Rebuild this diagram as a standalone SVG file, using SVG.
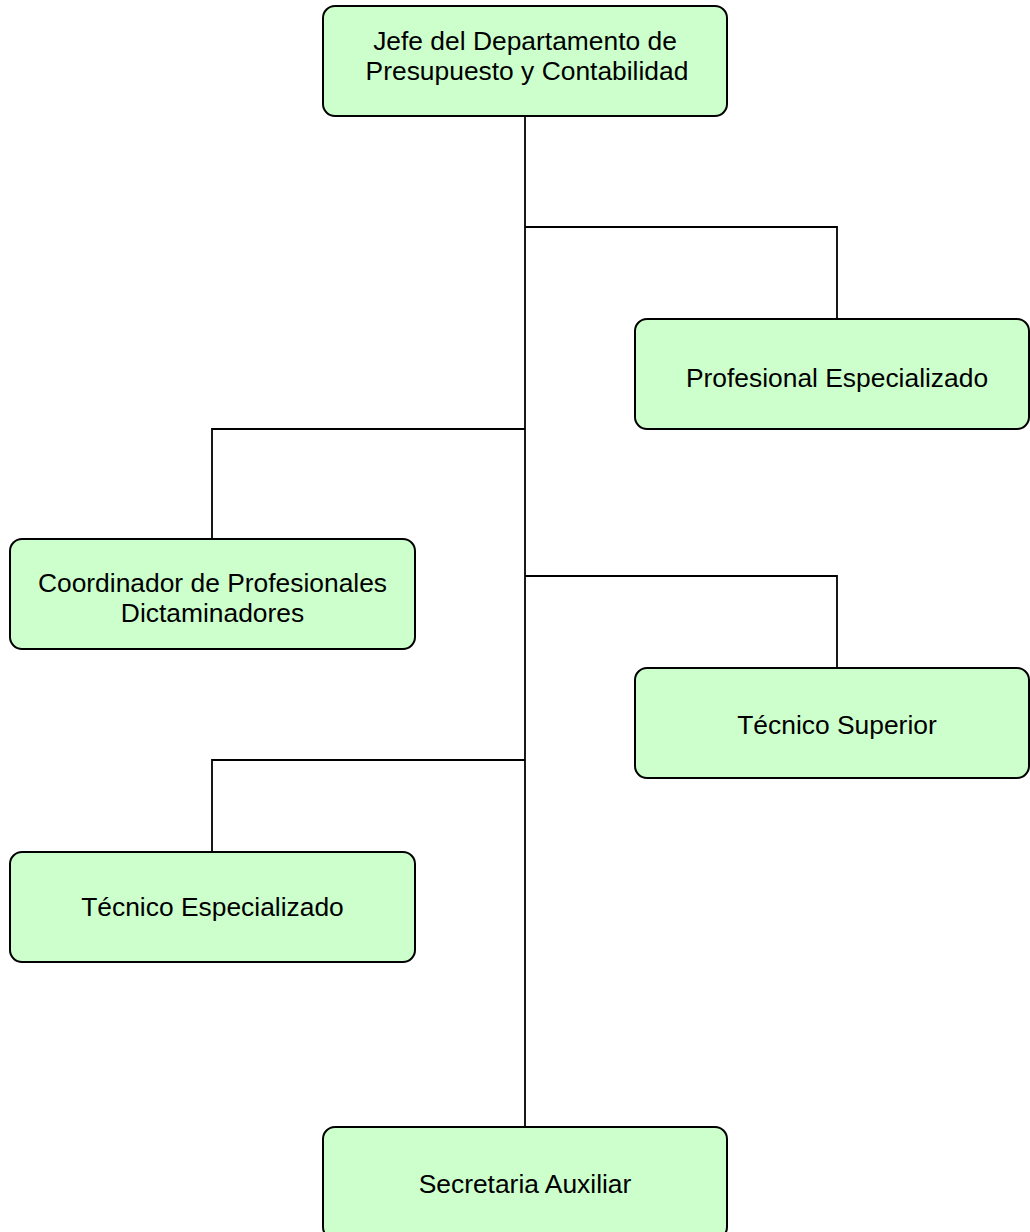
<svg xmlns="http://www.w3.org/2000/svg" width="1030" height="1232" viewBox="0 0 1030 1232">
  <style>
    .box { fill: #ccffcc; stroke: #000000; stroke-width: 2; }
    .lbl { font-family: "Liberation Sans", Arial, sans-serif; font-size: 26.4px; fill: #000000; text-anchor: middle; }
    .wire { fill: none; stroke: #000000; stroke-width: 1.8; }
  </style>
  <rect width="1030" height="1232" fill="#ffffff"/>

  <!-- reporting lines -->
  <g id="connectors">
    <path class="wire" d="M525 116 V1127"/>
    <path class="wire" d="M525 227 H837 V319"/>
    <path class="wire" d="M525 429 H212 V539"/>
    <path class="wire" d="M525 576 H837 V668"/>
    <path class="wire" d="M525 760 H212 V852"/>
  </g>

  <g id="jefe">
    <rect class="box" x="323" y="6" width="404" height="110" rx="12"/>
    <text class="lbl" x="525" y="50">Jefe del Departamento de</text>
    <text class="lbl" x="527" y="80">Presupuesto y Contabilidad</text>
  </g>

  <g id="profesional-especializado">
    <rect class="box" x="635" y="319" width="394" height="110" rx="12"/>
    <text class="lbl" x="837" y="387">Profesional Especializado</text>
  </g>

  <g id="coordinador">
    <rect class="box" x="10" y="539" width="405" height="110" rx="12"/>
    <text class="lbl" x="212.5" y="592">Coordinador de Profesionales</text>
    <text class="lbl" x="212.5" y="622">Dictaminadores</text>
  </g>

  <g id="tecnico-superior">
    <rect class="box" x="635" y="668" width="394" height="110" rx="12"/>
    <text class="lbl" x="837" y="734">Técnico Superior</text>
  </g>

  <g id="tecnico-especializado">
    <rect class="box" x="10" y="852" width="405" height="110" rx="12"/>
    <text class="lbl" x="212.5" y="916">Técnico Especializado</text>
  </g>

  <g id="secretaria">
    <rect class="box" x="323" y="1127" width="404" height="112" rx="12"/>
    <text class="lbl" x="525" y="1193">Secretaria Auxiliar</text>
  </g>
</svg>
